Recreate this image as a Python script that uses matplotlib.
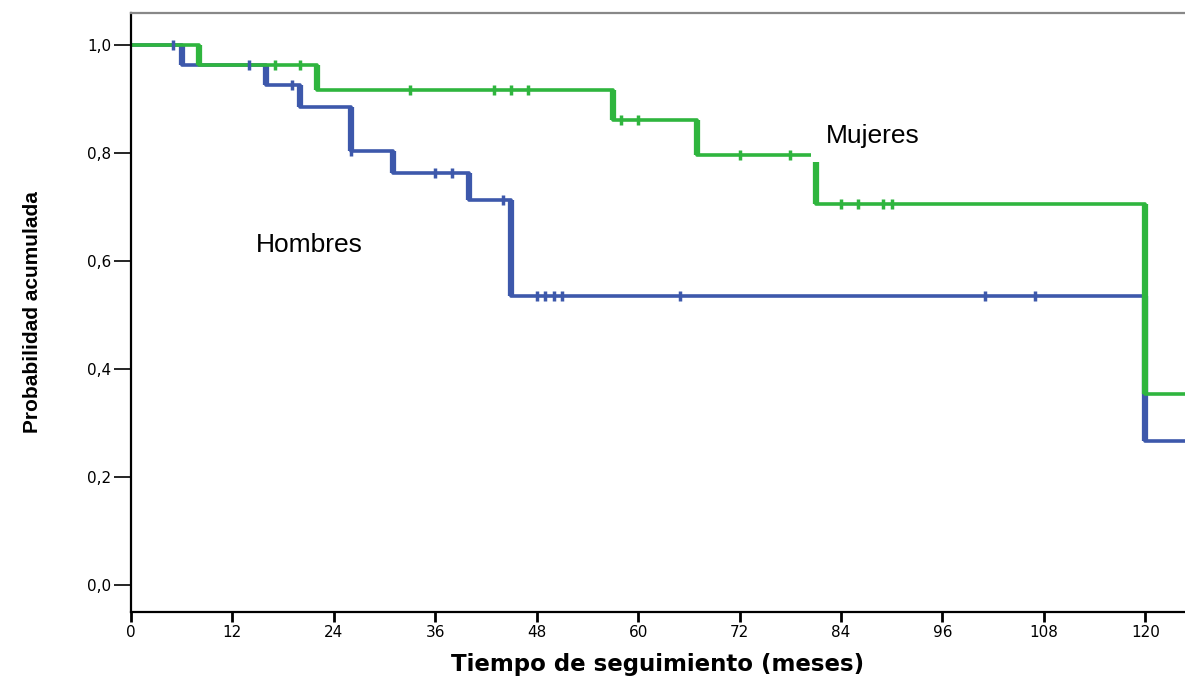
import numpy as np
import matplotlib
matplotlib.use("Agg")
import matplotlib.pyplot as plt

# Kaplan-Meier estimates (time in months, cumulative survival)
hombres_t = [0, 6, 16, 20, 26, 31, 40, 45, 120]
hombres_s = [1.0, 0.963, 0.926, 0.885, 0.804, 0.763, 0.712, 0.534, 0.267]
hombres_cens = [5, 14, 19, 26, 36, 38, 44, 48, 49, 50, 51, 65, 101, 107]

mujeres_t = [0, 8, 22, 57, 67, 81, 120]
mujeres_s = [1.0, 0.963, 0.917, 0.860, 0.795, 0.706, 0.353]
mujeres_cens = [17, 20, 33, 43, 45, 47, 58, 60, 72, 78, 84, 86, 89, 90]

last_followup = 130
xticks = [0, 12, 24, 36, 48, 60, 72, 84, 96, 108, 120]
yticks = [0.0, 0.2, 0.4, 0.6, 0.8, 1.0]

blue = "#3d58ab"
green = "#2fb53e"


def surv_at(times, surv, t):
    idx = np.searchsorted(times, t, side="right") - 1
    return np.array(surv)[idx]


def draw_curve(ax, times, surv, cens, color):
    xs = list(times) + [last_followup]
    ys = list(surv) + [surv[-1]]
    ax.step(xs, ys, where="post", color=color, lw=2.6, zorder=2)
    # drops drawn a bit heavier
    for i in range(1, len(times)):
        ax.plot([times[i], times[i]], [surv[i - 1], surv[i]], color=color,
                lw=4.5, solid_capstyle="butt", zorder=2)
    cy = surv_at(times, surv, cens)
    ax.plot(cens, cy, ls="none", marker="|", ms=7, mew=2.5, color=color, zorder=3)


fig = plt.figure(figsize=(11.85, 6.77), dpi=100)
ax = fig.add_axes([0.1105, 0.096, 0.8895, 0.885])

draw_curve(ax, hombres_t, hombres_s, hombres_cens, blue)
draw_curve(ax, mujeres_t, mujeres_s, mujeres_cens, green)

ax.text(14.8, 0.63, "Hombres", fontsize=19, family="Liberation Sans",
        va="center", ha="left", zorder=5)
ax.text(82.2, 0.832, "Mujeres", fontsize=19, family="Liberation Sans",
        va="center", ha="left", zorder=5,
        bbox=dict(boxstyle="square,pad=0.55", fc="white", ec="none"))

ax.set_xlim(0, 124.7)
ax.set_ylim(-0.05, 1.059)
ax.set_xticks(xticks)
ax.set_xticklabels([str(x) for x in xticks], fontsize=11)
ax.set_yticks(yticks)
ax.set_yticklabels([f"{y:.1f}".replace(".", ",") for y in yticks], fontsize=11)

ax.tick_params(axis="y", direction="out", length=12, width=1.2, pad=2)
ax.tick_params(axis="x", direction="out", length=7, width=2, pad=2)

ax.spines["right"].set_visible(False)
ax.spines["top"].set_color("#888888")
for s in ["left", "bottom", "top"]:
    ax.spines[s].set_linewidth(1.6)

ax.set_xlabel("Tiempo de seguimiento (meses)", fontsize=16.5, fontweight="bold",
              labelpad=10)
ax.set_ylabel("Probabilidad acumulada", fontsize=15, fontweight="bold",
              family=["Liberation Sans Narrow", "DejaVu Sans Condensed", "Liberation Sans"],
              fontstretch="condensed")
ax.yaxis.set_label_coords(-0.084, 0.5)

fig.savefig("out.png", dpi=100)
